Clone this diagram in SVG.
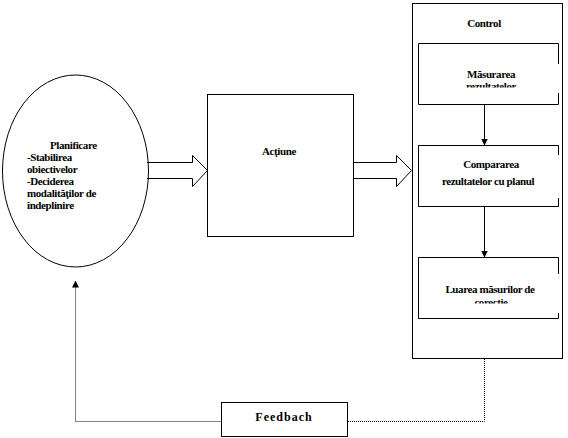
<svg xmlns="http://www.w3.org/2000/svg" width="568" height="438" viewBox="0 0 568 438">
<style>
.s{fill:none;stroke:#000;stroke-width:1}
.t{font-family:'Liberation Serif','Times New Roman',Times,serif;font-weight:bold;font-size:11px;fill:#000;letter-spacing:-0.4px}
.c{text-anchor:middle}
.d{fill:none;stroke:#000;stroke-width:1;stroke-dasharray:1,1}
</style>
<defs>
<marker id="ah" markerWidth="7" markerHeight="8" refX="6.5" refY="4" orient="auto" markerUnits="userSpaceOnUse">
<path d="M0,0.5 L7,4 L0,7.5 z" fill="#000"/>
</marker>
<clipPath id="c1"><rect x="418" y="60" width="140" height="27.5"/></clipPath>
<clipPath id="c3"><rect x="418" y="276" width="140" height="27.5"/></clipPath>
</defs>
<rect width="568" height="438" fill="#fff"/>

<g id="planificare">
<ellipse class="s" cx="75.5" cy="171" rx="73" ry="96"/>
<text class="t" x="50" y="149">Planificare</text>
<text class="t" x="27" y="161">-Stabilirea</text>
<text class="t" x="27" y="173">obiectivelor</text>
<text class="t" x="27" y="185">-Deciderea</text>
<text class="t" x="27" y="197">modalităţilor de</text>
<text class="t" x="27" y="209">îndeplinire</text>
</g>

<g id="actiune">
<rect class="s" x="207.5" y="94.5" width="146" height="142"/>
<text class="t c" x="279" y="155">Acţiune</text>
</g>

<g id="control">
<rect class="s" x="412.5" y="3.5" width="150" height="355"/>
<text class="t c" x="484" y="27">Control</text>
</g>

<g id="masurarea">
<path class="s" d="M558.5,64 V43.5 H418.5 V104.5 H558.5 V93"/>
<text class="t c" x="491" y="78">Măsurarea</text>
<text class="t c" x="491" y="90" clip-path="url(#c1)">rezultatelor</text>
</g>

<g id="compararea">
<path class="s" d="M558.5,155 V145.5 H418.5 V206.5 H558.5 V198"/>
<text class="t c" x="491" y="168">Compararea</text>
<text class="t c" x="488" y="185">rezultatelor cu planul</text>
</g>

<g id="luarea">
<path class="s" d="M558.5,274 V257.5 H418.5 V318.5 H558.5 V313"/>
<text class="t c" x="490" y="293">Luarea măsurilor de</text>
<text class="t c" x="491" y="306" clip-path="url(#c3)">corecţie</text>
</g>

<g id="feedback">
<rect class="s" x="221.5" y="402.5" width="126" height="34"/>
<text class="t c" x="284" y="421" style="font-size:12px;letter-spacing:1px">Feedbach</text>
</g>

<g id="connectors">
<path class="s" d="M147,162.5 H192.5 V155.5 L207.5,170.5 L192.5,186.5 V178.5 H147"/>
<path class="s" d="M353,162.5 H396.5 V155.5 L411.5,170.5 L396.5,186.5 V178.5 H353"/>
<line class="s" x1="484.5" y1="104.5" x2="484.5" y2="145" marker-end="url(#ah)"/>
<line class="s" x1="484.5" y1="206.5" x2="484.5" y2="257" marker-end="url(#ah)"/>
<path class="d" d="M484.5,359 V421.5 H347.5"/>
<path class="d" d="M221.5,421.5 H75.5 V281" marker-end="url(#ah)"/>
</g>
</svg>
